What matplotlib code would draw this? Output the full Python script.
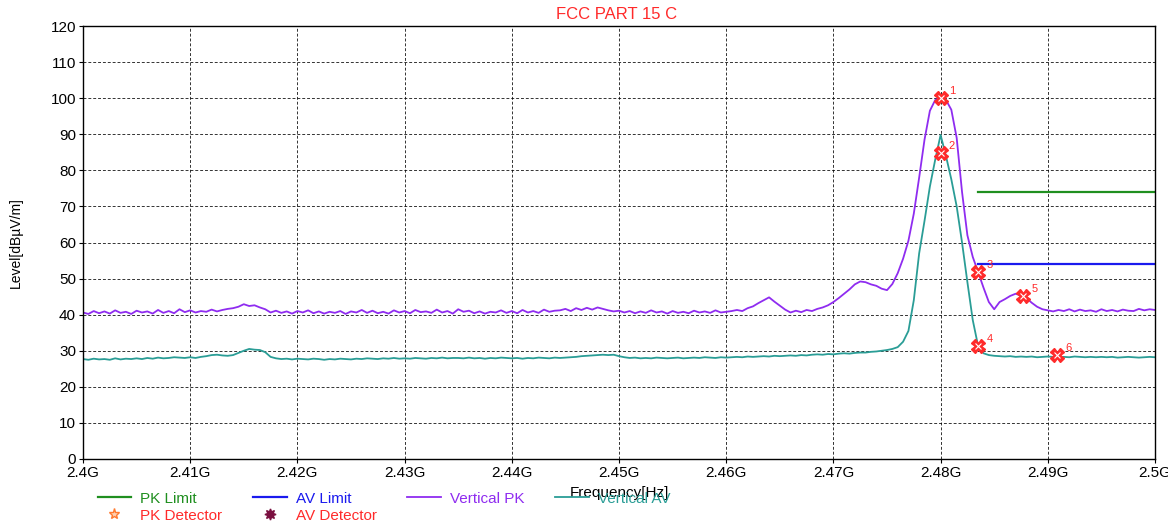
import numpy as np
import matplotlib.pyplot as plt
from matplotlib.ticker import FixedLocator

plt.rcParams['font.family'] = ['Liberation Sans', 'DejaVu Sans']

# ---------------------------------------------------------------- data ---- #
# frequency grid, 0.5 MHz step, 2.400 .. 2.500 GHz
freq_mhz = np.arange(0, 100.5, 0.5)
freq = 2.4 + freq_mhz / 1000.0

# Vertical PK trace (dBuV/m), 10 values per row = 5 MHz
vert_pk = [
    40.6, 40.2, 41.0, 40.4, 40.9, 40.3, 41.2, 40.5, 40.8, 40.2,   # 0
    41.1, 40.6, 40.9, 40.3, 41.3, 40.5, 41.0, 40.4, 41.5, 40.7,   # 5
    41.2, 40.6, 41.0, 40.8, 41.4, 40.9, 41.3, 41.6, 41.8, 42.2,   # 10
    42.9, 42.4, 42.6, 42.0, 41.5, 40.6, 41.1, 40.5, 40.9, 40.3,   # 15
    41.0, 40.6, 41.2, 40.4, 40.9, 40.3, 40.8, 40.5, 41.0, 40.2,   # 20
    40.9, 40.6, 41.3, 40.5, 41.1, 40.4, 40.8, 40.3, 41.2, 40.6,   # 25
    41.0, 40.4, 41.3, 40.7, 40.9, 40.5, 41.4, 40.6, 41.0, 40.3,   # 30
    41.5, 40.8, 41.1, 40.4, 40.9, 40.3, 40.8, 40.6, 41.2, 40.5,   # 35
    41.0, 40.4, 41.3, 40.6, 41.0, 40.5, 41.4, 40.8, 41.1, 41.2,   # 40
    41.6, 41.0, 41.8, 41.3, 41.9, 41.4, 42.0, 41.6, 41.2, 40.9,   # 45
    41.1, 40.6, 41.0, 40.4, 40.9, 40.5, 41.2, 40.6, 40.9, 40.3,   # 50
    41.0, 40.5, 40.8, 40.4, 41.1, 40.6, 40.9, 40.5, 41.2, 40.6,   # 55
    40.8, 41.0, 41.3, 41.0, 41.8, 42.3, 43.2, 44.0, 44.8, 43.6,   # 60
    42.5, 41.4, 40.6, 41.1, 40.7, 41.3, 41.0, 41.6, 42.0, 42.6,   # 65
    43.5, 44.6, 45.8, 47.0, 48.4, 49.2, 49.0, 48.4, 48.0, 47.2,   # 70
    46.8, 48.5, 51.5, 55.5, 60.5, 68.0, 78.0, 88.5, 96.5, 99.5,   # 75
    100.1, 99.5, 96.8, 89.0, 74.0, 62.0, 56.0, 51.8, 47.5, 43.5,  # 80
    41.5, 43.5, 44.3, 45.2, 45.8, 45.3, 44.6, 43.3, 42.2, 41.5,   # 85
    41.2, 40.9, 41.3, 41.0, 41.5, 40.9, 41.4, 41.0, 41.2, 40.8,   # 90
    41.5, 41.0, 41.3, 40.9, 41.4, 41.1, 41.0, 41.6, 41.2, 41.5,   # 95
    41.3,
]

# Vertical AV trace (dBuV/m)
vert_av = [
    27.7, 27.5, 27.8, 27.6, 27.7, 27.5, 27.9, 27.6, 27.8, 27.7,   # 0
    27.9, 27.7, 28.0, 27.8, 28.1, 27.9, 28.0, 28.2, 28.1, 28.0,   # 5
    28.2, 28.0, 28.3, 28.5, 28.8, 28.9, 28.7, 28.6, 28.8, 29.4,   # 10
    30.0, 30.5, 30.3, 30.2, 29.6, 28.3, 27.9, 27.7, 27.8, 27.6,   # 15
    27.8, 27.7, 27.6, 27.8, 27.7, 27.5, 27.7, 27.6, 27.8, 27.7,   # 20
    27.6, 27.8, 27.7, 27.9, 27.8, 27.7, 27.9, 27.8, 28.0, 27.8,   # 25
    27.9, 27.8, 28.0, 27.9, 27.8, 28.0, 27.9, 28.1, 27.9, 28.0,   # 30
    28.0, 27.9, 28.1, 27.9, 28.0, 27.8, 28.0, 27.9, 28.1, 28.0,   # 35
    27.9, 28.0, 27.8, 28.0, 27.9, 28.1, 28.0, 27.9, 28.1, 28.0,   # 40
    28.1, 28.2, 28.3, 28.5, 28.6, 28.7, 28.8, 28.9, 28.8, 28.9,   # 45
    28.5, 28.2, 28.0, 28.1, 27.9, 28.0, 27.9, 28.1, 28.0, 27.9,   # 50
    28.0, 28.1, 27.9, 28.0, 28.1, 28.0, 28.2, 28.1, 28.0, 28.2,   # 55
    28.1, 28.2, 28.3, 28.2, 28.4, 28.3, 28.4, 28.5, 28.4, 28.6,   # 60
    28.5, 28.6, 28.7, 28.6, 28.8, 28.7, 28.9, 29.0, 28.9, 29.1,   # 65
    29.0, 29.2, 29.3, 29.2, 29.4, 29.5, 29.5, 29.7, 29.8, 30.0,   # 70
    30.2, 30.5, 31.0, 32.5, 35.5, 44.0, 57.0, 66.0, 75.5, 83.0,   # 75
    89.8, 84.0, 77.5, 70.0, 60.0, 49.0, 38.5, 31.3, 29.3, 28.8,   # 80
    28.6, 28.5, 28.4, 28.5, 28.3, 28.4, 28.3, 28.4, 28.2, 28.3,   # 85
    28.4, 28.3, 28.2, 28.3, 28.2, 28.4, 28.3, 28.2, 28.3, 28.2,   # 90
    28.3, 28.2, 28.3, 28.1, 28.2, 28.3, 28.2, 28.1, 28.2, 28.3,   # 95
    28.2,
]

# limit lines (GHz start/stop, dBuV/m)
limit_f = [2.4835, 2.5]
pk_limit = [74, 74]
av_limit = [54, 54]

# marker table
mk_no = ['1', '2', '3', '4', '5', '6']
mk_f = [2.4800, 2.4800, 2.4835, 2.4835, 2.4877, 2.4909]
mk_lvl = [100.0, 84.8, 51.8, 31.3, 45.2, 28.8]

x_ticks = [2.4 + i * 0.01 for i in range(11)]
x_labels = ['2.4G', '2.41G', '2.42G', '2.43G', '2.44G', '2.45G',
            '2.46G', '2.47G', '2.48G', '2.49G', '2.5G']
y_ticks = list(range(0, 121, 10))

# ---------------------------------------------------------------- plot ---- #
C_PK = '#8f2cf0'
C_AV = '#2a9d96'
C_PKL = '#1f8f1f'
C_AVL = '#1a1aee'
C_RED = '#ff2a2a'

fig = plt.figure(figsize=(11.68, 5.22), dpi=100)
ax = fig.add_axes([83 / 1168, 1 - 459 / 522, (1155 - 83) / 1168, (459 - 26) / 522])

ax.set_xlim(2.4, 2.5)
ax.set_ylim(0, 120)
ax.xaxis.set_major_locator(FixedLocator(x_ticks))
ax.set_xticklabels(x_labels)
ax.yaxis.set_major_locator(FixedLocator(y_ticks))
ax.tick_params(direction='out', length=3, width=0.8, labelsize=11, pad=2)
ax.grid(True, color='black', linestyle=(0, (3, 2)), linewidth=0.7, alpha=0.8)
for s in ax.spines.values():
    s.set_linewidth(1.0)

l_pk, = ax.plot(freq, vert_pk, color=C_PK, linewidth=1.3, label='Vertical PK')
l_av, = ax.plot(freq, vert_av, color=C_AV, linewidth=1.3, label='Vertical AV')
l_pkl, = ax.plot(limit_f, pk_limit, color=C_PKL, linewidth=1.6, label='PK Limit')
l_avl, = ax.plot(limit_f, av_limit, color=C_AVL, linewidth=1.6, label='AV Limit')

ax.plot(mk_f, mk_lvl, linestyle='none', marker='X', markersize=10,
        color=C_RED, markeredgecolor=C_RED, zorder=5)
ax.plot(mk_f, mk_lvl, linestyle='none', marker='x', markersize=5,
        color='white', markeredgewidth=0.8, zorder=6)
for n, f, v in zip(mk_no, mk_f, mk_lvl):
    ax.annotate(n, (f, v), xytext=(6, 3), textcoords='offset points',
                color=C_RED, fontsize=8)

ax.set_ylabel('Level[dBµV/m]', fontsize=10, labelpad=20)
ax.set_xlabel('Frequency[Hz]', fontsize=11, labelpad=4)
fig.text(0.528, 0.972, 'FCC PART 15 C', color=C_RED, fontsize=12,
         ha='center', va='center')

# legend
h_pkd, = ax.plot([], [], linestyle='none', marker='*', markersize=8,
                 markerfacecolor='#ffd0b0', markeredgecolor='#ff7a30', label='PK Detector')
h_avd, = ax.plot([], [], linestyle='none', marker=(8, 1, 0), markersize=8,
                 color='#7a1040', label='AV Detector')
handles = [l_pkl, h_pkd, l_avl, h_avd, l_pk, l_av]
leg = fig.legend(handles=handles, ncol=4, loc='upper left',
                 bbox_to_anchor=(90 / 1168, 1 - 484 / 522), frameon=False,
                 fontsize=11, handlelength=2.2, handletextpad=0.6,
                 columnspacing=2.0, labelspacing=0.2, borderpad=0.0)
colors = [C_PKL, C_RED, C_AVL, C_RED, C_PK, C_AV]
for t, c in zip(leg.get_texts(), colors):
    t.set_color(c)

fig.savefig('out.png', dpi=100)
